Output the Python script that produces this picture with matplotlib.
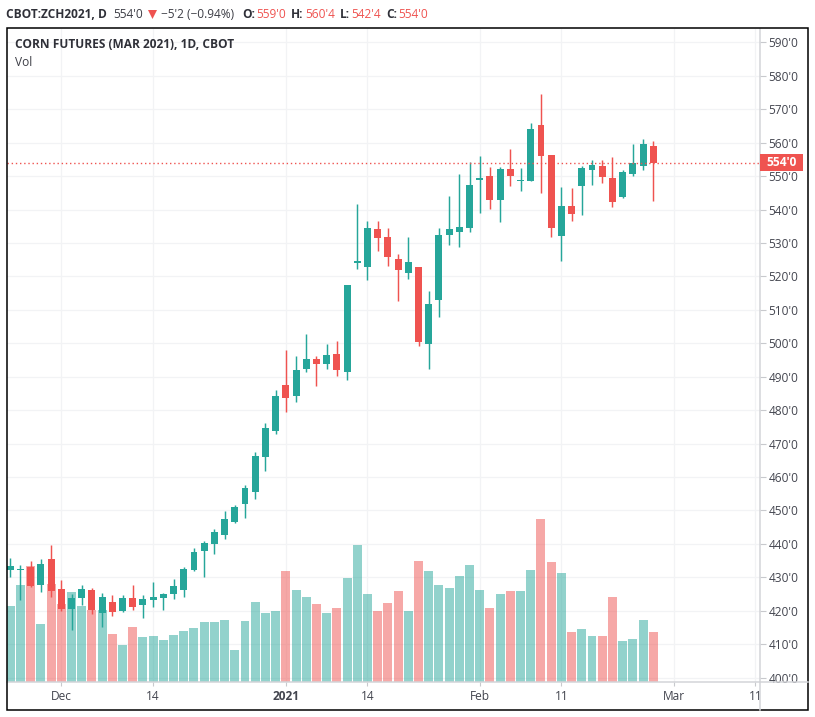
import matplotlib
matplotlib.use('Agg')
import matplotlib.pyplot as plt
import numpy as np
from matplotlib.patches import Rectangle, Polygon

plt.rcParams['font.family'] = ['Open Sans', 'DejaVu Sans']

opens = [432.2, 432.2, 433.1, 427.7, 435.5, 426.5, 420.5, 423.8, 426.2, 419.4,
         422.6, 420.0, 423.8, 421.7, 423.2, 423.8, 425.0, 426.2, 432.2, 437.9,
         440.0, 442.7, 446.6, 452.0, 455.5, 466.0, 473.8, 487.6, 484.3, 492.3,
         495.3, 493.8, 496.8, 491.4, 524.0, 522.9, 534.2, 531.8, 525.2, 521.0,
         522.9, 499.8, 513.0, 532.4, 533.3, 534.5, 548.9, 550.0, 543.0, 552.2,
         548.6, 548.6, 565.3, 556.3, 532.1, 541.1, 547.1, 551.9, 553.0, 549.5,
         543.9, 550.7, 553.1, 559.0]
highs = [435.8, 433.7, 434.9, 435.5, 439.7, 429.2, 425.0, 427.7, 426.8, 425.3,
         424.7, 424.7, 427.7, 424.7, 428.6, 425.3, 429.5, 433.1, 438.8, 440.9,
         444.5, 449.8, 451.7, 457.6, 467.5, 476.2, 486.0, 498.0, 496.2, 502.8,
         496.2, 499.8, 500.7, 517.5, 541.7, 536.6, 536.6, 534.5, 526.7, 531.8,
         522.9, 515.7, 534.5, 544.0, 550.6, 554.3, 556.0, 552.8, 552.8, 558.1,
         552.5, 565.9, 574.6, 556.3, 546.8, 546.5, 553.0, 554.9, 554.9, 555.8,
         551.9, 559.7, 561.1, 560.5]
lows = [430.2, 423.2, 427.1, 425.6, 424.1, 420.0, 414.3, 421.7, 419.0, 415.2,
        418.5, 419.6, 420.2, 417.9, 421.1, 420.3, 423.5, 424.1, 431.9, 430.1,
        437.0, 441.5, 446.3, 447.8, 453.5, 461.8, 472.9, 479.5, 482.5, 491.4,
        487.3, 492.3, 490.3, 489.0, 522.3, 519.0, 527.6, 523.2, 512.7, 519.3,
        499.2, 492.3, 507.9, 529.4, 528.8, 533.3, 539.0, 540.2, 536.3, 547.0,
        545.6, 548.6, 545.0, 531.8, 524.6, 536.6, 538.4, 547.4, 548.0, 540.8,
        543.5, 550.1, 551.7, 542.5]
closes = [433.4, 432.5, 427.4, 434.0, 425.9, 420.5, 423.8, 426.5, 420.3, 424.1,
          419.7, 423.8, 421.1, 423.5, 424.1, 425.0, 427.4, 432.5, 437.6, 440.3,
          443.6, 447.5, 451.0, 456.7, 466.3, 474.7, 484.3, 483.7, 492.0, 495.3,
          493.8, 496.5, 492.0, 517.5, 524.6, 534.5, 531.5, 525.8, 522.0, 524.3,
          500.4, 511.8, 532.4, 534.2, 534.8, 547.4, 549.5, 542.8, 552.2, 550.0,
          548.9, 564.1, 556.0, 534.5, 541.1, 538.6, 552.5, 553.4, 549.8, 542.4,
          551.3, 554.0, 559.7, 554.0]
volume = [76, 97, 116, 58, 98, 78, 90, 76, 72, 72, 48, 37, 55, 45, 46, 42, 47, 51, 54, 60,
          60, 62, 32, 61, 80, 69, 71, 111, 92, 85, 78, 69, 74, 104, 137, 88, 71, 79, 91, 71,
          121, 111, 97, 94, 106, 117, 92, 74, 88, 91, 91, 112, 163, 120, 109, 50, 53, 46, 46, 85,
          41, 43, 62, 50]

tick_pos = [5, 14, 27, 35, 46, 54, 65, 73]
tick_labels = ['Dec', '14', '2021', '14', 'Feb', '11', 'Mar', '11']
price_ticks = list(range(400, 600, 10))
last_price = 554.0

GREEN = '#26a69a'
RED = '#ef5350'
TEXT = '#43454f'
W, H = 815, 717

opens = np.array(opens)
closes = np.array(closes)
x = np.arange(len(opens))
colors = [RED if c < o else GREEN for o, c in zip(opens, closes)]

fig = plt.figure(figsize=(W / 100, H / 100), dpi=100)
ax = fig.add_axes([7 / W, (H - 682) / H, 753 / W, 653 / H])
ymin, ymax = 398.7, 594.0
ax.set_xlim(-0.32, 73.46)
ax.set_ylim(ymin, ymax)

# volume shares the price axes, one unit is about a pixel tall
k = (ymax - ymin) / 653
ax.bar(x, np.array(volume) * k, bottom=ymin, width=0.88, color=colors, alpha=0.5, lw=0, zorder=2)

ax.vlines(x, lows, highs, colors=colors, lw=1.05, zorder=3)
ax.bar(x, np.abs(closes - opens), bottom=np.minimum(opens, closes), width=0.68,
       color=colors, lw=0, zorder=4)

ax.axhline(last_price, color=RED, lw=1, ls=(0, (1, 2)), zorder=5)

ax.set_axisbelow(True)
ax.grid(True, color='#f2f3f5', lw=0.9)
ax.yaxis.tick_right()
ax.set_yticks(price_ticks)
ax.set_yticklabels([f"{p}'0" for p in price_ticks])
ax.set_xticks(tick_pos)
ax.set_xticklabels(tick_labels)
ax.tick_params(axis='y', length=4, color='#c8c9cd', labelsize=8.6, labelcolor=TEXT, pad=2)
ax.tick_params(axis='x', length=3, color='#c8c9cd', labelsize=8.6, labelcolor=TEXT, pad=2.5)
for lab in ax.get_xticklabels():
    if lab.get_text() == '2021':
        lab.set_fontweight('bold')
for s in ['top', 'left']:
    ax.spines[s].set_visible(False)
for s in ['right', 'bottom']:
    ax.spines[s].set_color('#d3d4d8')
    ax.spines[s].set_linewidth(1.1)


def px(xp, yp):
    return xp / W, 1 - yp / H


# axis lines run on to the frame
fig.add_artist(plt.Line2D([760 / W, 760 / W], [px(0, 682)[1], px(0, 710)[1]], color='#d3d4d8', lw=1.1))
fig.add_artist(plt.Line2D([760 / W, 808 / W], [px(0, 682)[1], px(0, 682)[1]], color='#d3d4d8', lw=1.1))
fig.add_artist(Rectangle(px(6.5, 710), 801.5 / W, 682 / H, transform=fig.transFigure,
                         fill=False, ec='black', lw=1.1))

# last price tag
y_last = ax.transData.transform((0, last_price))[1]
fig.add_artist(Rectangle((760 / W, (y_last - 8.5) / H), 43 / W, 17 / H, transform=fig.transFigure,
                         fc=RED, ec='none', zorder=6))
fig.text(781.5 / W, y_last / H, "554'0", color='white', fontsize=8.6, fontweight='bold',
         ha='center', va='center', zorder=7)

fig.text(15 / W, 1 - 45 / H, 'CORN FUTURES (MAR 2021), 1D, CBOT', fontsize=8.6, fontweight='bold',
         color='#2f3038', va='center')
fig.text(15 / W, 1 - 62 / H, 'Vol', fontsize=8.6, color='#3c3d45', va='center')

# header strip
header = [(6, 'CBOT:ZCH2021, D', '#2f3038', 'bold'),
          (113, "554'0", '#3c3d45', 'normal'),
          (161, "\u22125'2 (\u22120.94%)", '#3c3d45', 'normal'),
          (242, 'O:', '#2f3038', 'bold'),
          (256, "559'0", RED, 'normal'),
          (291, 'H:', '#2f3038', 'bold'),
          (305, "560'4", RED, 'normal'),
          (340, 'L:', '#2f3038', 'bold'),
          (351, "542'4", RED, 'normal'),
          (386, 'C:', '#2f3038', 'bold'),
          (398, "554'0", RED, 'normal')]
for xp, s, c, w in header:
    fig.text(xp / W, 1 - 14.5 / H, s, color=c, fontweight=w, fontsize=8.6, va='center')
fig.add_artist(Polygon([px(148, 10), px(157, 10), px(152.5, 19)], closed=True, transform=fig.transFigure,
                       fc=RED, ec='none'))

fig.savefig('out.png', dpi=100)
